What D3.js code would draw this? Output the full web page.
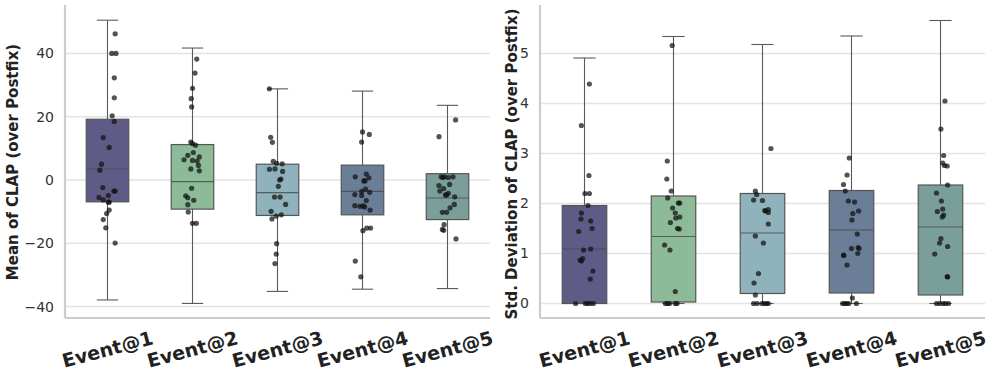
<!DOCTYPE html>
<html>
<head>
<meta charset="utf-8">
<script src="https://cdn.jsdelivr.net/npm/d3@7"></script>
<style>
body{margin:0;background:#fff;}
text{font-family:"DejaVu Sans",sans-serif;}
</style>
</head>
<body>
<svg id="chart" width="996" height="376"></svg>
<script>
// categories and box colours
let categories=["Event@1","Event@2","Event@3","Event@4","Event@5"];
let boxColors=["#5f5b87","#8dbb98","#8fb2bd","#6a7e97","#7a9e99"];

// box stats: [whisker low, q1, median, q3, whisker high]
let meanStats=[
    [-37.9,-6.9,3.5,19.2,50.5],
    [-39.0,-9.2,-0.5,11.2,41.7],
    [-35.2,-11.2,-4.0,5.0,28.8],
    [-34.5,-11.0,-3.6,4.7,28.1],
    [-34.3,-12.5,-5.7,2.0,23.6]
];
let stdStats=[
    [0,0,1.09,1.96,4.91],
    [0,0.03,1.34,2.15,5.34],
    [0,0.2,1.41,2.2,5.18],
    [0,0.21,1.47,2.26,5.35],
    [0,0.17,1.53,2.37,5.66]
];

// strip points: [value, jitter (in category widths)]
let meanPoints=[
    [[46.2,0.09],[40,0.05],[40,0.1],[32.3,0.08],[26,0.08],[20.3,0.055],[18.5,0.08],[13.4,-0.05],[10.3,0.02],[5.0,-0.07],[3.1,-0.09],[-2.4,-0.055],[-3.5,0.075],[-3.5,0.09],[-4.9,0.01],[-5.5,-0.1],[-6.3,-0.05],[-7.0,0.01],[-7.0,0.02],[-9.5,0.02],[-10.6,-0.01],[-12.5,-0.05],[-15.1,-0.02],[-19.9,0.09]],
    [[38.2,0.05],[33.8,0.03],[29.0,0],[25.7,-0.015],[23.1,-0.01],[12.0,-0.02],[11.5,0],[11.0,0.035],[7.8,-0.055],[8.7,0.01],[6.4,-0.1],[6.2,0],[6.0,0.055],[7.3,0.08],[4.6,0.07],[3.5,-0.02],[2.9,0.08],[-2.6,-0.01],[-5.0,-0.08],[-5.6,-0.055],[-6.4,0.015],[-7.8,-0.055],[-10.1,-0.05],[-13.7,0],[-13.7,0.045]],
    [[28.8,-0.095],[13.5,-0.08],[11.9,-0.06],[5.9,-0.05],[5.3,-0.01],[5.1,0.055],[3.4,-0.095],[3.5,-0.03],[2.7,0.06],[0,0.025],[0.3,0.04],[-2.0,0.01],[-5.4,-0.035],[-5.4,0.03],[-7.7,0.095],[-9.9,-0.075],[-11.4,-0.015],[-11.0,0.045],[-12.3,-0.065],[-20.1,-0.01],[-23.4,-0.015],[-26.4,-0.03]],
    [[15.2,0],[14.4,0.08],[12.0,-0.01],[1.0,-0.085],[1.9,0.045],[0.7,0.075],[-0.3,0.015],[-0.3,0.03],[-3.9,0.085],[-3.6,-0.01],[-2.9,0.035],[-4.6,-0.09],[-4.9,-0.01],[-6.5,0.045],[-8.1,-0.09],[-8.3,-0.03],[-8.2,0.005],[-8.5,0.025],[-9.5,0.09],[-16.0,0.005],[-15.2,0.05],[-15.2,0.095],[-25.6,-0.085],[-30.6,-0.02]],
    [[19.0,0.095],[13.7,-0.1],[1.0,-0.075],[1.0,-0.035],[1.0,0.065],[0.8,0.01],[0.8,-0.055],[-1.8,-0.1],[-2.7,-0.045],[-1.4,0.025],[-3.5,-0.09],[-4.7,-0.025],[-4.7,-0.01],[-4.2,0.01],[-5.3,0.085],[-10.2,-0.06],[-10.2,-0.01],[-8.8,0.03],[-7.7,0.08],[-14.1,-0.04],[-15.6,-0.06],[-15.9,-0.045],[-18.6,0.1]]
];
let stdPoints=[
    [[4.39,0.055],[3.56,-0.035],[2.56,0.05],[2.2,0.005],[2.2,0.055],[1.96,0.04],[1.81,-0.035],[1.69,-0.04],[1.65,0.07],[1.5,0.085],[1.44,-0.065],[1.07,-0.01],[1.09,0.07],[0.9,-0.02],[0.85,-0.035],[0.87,-0.05],[0.65,0.095],[0.49,0.065],[0,-0.1],[0,0.01],[0,0.035],[0,0.065],[0,0.1]],
    [[5.16,-0.015],[2.85,-0.07],[2.49,-0.075],[2.25,-0.025],[2.11,-0.065],[2.01,0.055],[2.01,0.07],[1.91,-0.01],[1.81,0.02],[1.73,0.07],[1.71,0.025],[1.62,-0.035],[1.5,0.045],[1.49,0.065],[1.17,-0.1],[1.07,-0.04],[0.24,0.02],[0,-0.09],[0,-0.065],[0,-0.045],[0,0.02],[0,0.04]],
    [[3.1,0.095],[2.25,-0.08],[2.18,-0.065],[2.07,-0.1],[2.06,0],[1.86,0.025],[1.88,0.065],[1.82,0.065],[1.85,0.035],[1.59,0.065],[1.35,-0.08],[1.21,0.01],[0.6,-0.045],[0.41,-0.095],[0.17,-0.08],[0,-0.1],[0,-0.06],[0,-0.005],[0,0.02],[0,0.045],[0,0.065]],
    [[2.91,-0.025],[2.57,-0.05],[2.38,-0.09],[2.25,-0.07],[2.05,-0.035],[2.03,0.035],[1.85,0.08],[1.80,0.015],[1.67,0.005],[1.39,0.065],[1.1,0],[1.12,0.075],[1.1,0.085],[0.97,-0.09],[0.96,-0.085],[1.0,0.07],[0.77,-0.05],[0.11,0.01],[0,-0.1],[0,-0.075],[0,-0.055],[0,-0.03],[0,0.055]],
    [[4.05,0.05],[3.49,0.005],[2.96,0.035],[2.81,0.025],[2.76,0.045],[2.75,0.075],[2.37,0.08],[2.21,-0.045],[2.05,0.01],[1.84,-0.035],[1.89,0.025],[1.77,0.035],[1.73,0.02],[1.3,0.005],[1.21,-0.01],[1.14,0.08],[0.99,-0.065],[0.54,0.075],[0.53,0.08],[0,-0.045],[0,-0.01],[0,0.03],[0,0.055],[0,0.09]]
];

let meanTicks=[-40,-20,0,20,40];
let stdTicks=[0,1,2,3,4,5];

const svg=d3.select("#chart");
const plotTop=5,plotBottom=318;

function drawPanel(opt){
    let x=d3.scaleBand().domain(categories).range([opt.left,opt.right]).padding(0);
    let y=d3.scaleLinear().domain(opt.domain).range([plotBottom,plotTop]);
    let g=svg.append("g");

    // grid
    g.append("g").selectAll("line").data(opt.ticks).enter().append("line")
        .attr("x1",opt.left).attr("x2",opt.right)
        .attr("y1",d=>y(d)).attr("y2",d=>y(d))
        .style("stroke","#e3e3e3").style("stroke-width",1.5);

    // y axis labels
    let ax=g.append("g").attr("transform","translate("+opt.left+",0)")
        .call(d3.axisLeft(y).tickValues(opt.ticks).tickFormat(d3.format("d")).tickSize(0).tickPadding(11));
    ax.select(".domain").remove();
    ax.selectAll("text").style("font-size","14px").style("fill","#333")
        .style("font-family","'DejaVu Sans',sans-serif");

    let bw=x.bandwidth(),boxW=bw*0.5;
    let cx=c=>x(c)+bw/2;

    opt.stats.forEach((s,i)=>{
        let c=cx(categories[i]);
        let bx=g.append("g");
        bx.append("line").attr("x1",c).attr("x2",c).attr("y1",y(s[0])).attr("y2",y(s[1]))
            .style("stroke","#5a5a5a").style("stroke-width",1.1);
        bx.append("line").attr("x1",c).attr("x2",c).attr("y1",y(s[3])).attr("y2",y(s[4]))
            .style("stroke","#5a5a5a").style("stroke-width",1.1);
        [s[0],s[4]].forEach(v=>{
            bx.append("line").attr("x1",c-boxW/4).attr("x2",c+boxW/4).attr("y1",y(v)).attr("y2",y(v))
                .style("stroke","#5a5a5a").style("stroke-width",1.1);
        });
        bx.append("rect").attr("x",c-boxW/2).attr("width",boxW)
            .attr("y",y(s[3])).attr("height",Math.max(0.5,y(s[1])-y(s[3])))
            .style("fill",boxColors[i]).style("stroke","#555").style("stroke-width",1.2);
        bx.append("line").attr("x1",c-boxW/2).attr("x2",c+boxW/2).attr("y1",y(s[2])).attr("y2",y(s[2]))
            .style("stroke","#4a4a4a").style("stroke-width",1.1).style("opacity",0.8);
    });

    opt.points.forEach((pts,i)=>{
        let c=cx(categories[i]);
        g.append("g").selectAll("circle").data(pts).enter().append("circle")
            .attr("cx",d=>c+d[1]*bw)
            .attr("cy",d=>y(d[0]))
            .attr("r",2.6)
            .style("fill","#111").style("opacity",0.72);
    });

    // spines
    g.append("line").attr("x1",opt.left).attr("x2",opt.left).attr("y1",plotTop).attr("y2",plotBottom)
        .style("stroke","#cccccc").style("stroke-width",2.2);
    g.append("line").attr("x1",opt.left).attr("x2",opt.right).attr("y1",plotBottom).attr("y2",plotBottom)
        .style("stroke","#cccccc").style("stroke-width",2.2);

    // x labels
    g.append("g").selectAll("text").data(categories).enter().append("text")
        .attr("transform",d=>"translate("+cx(d)+",349) rotate(-15)")
        .attr("text-anchor","middle").attr("dominant-baseline","central")
        .style("font-size","19px").style("font-weight","bold").style("fill","#222")
        .text(d=>d);

    // y title
    g.append("text")
        .attr("transform","translate("+opt.titleX+","+opt.titleY+") rotate(-90)")
        .attr("text-anchor","middle").attr("dominant-baseline","central")
        .style("font-size","15px").style("font-weight","bold").style("fill","#222")
        .text(opt.title);
}

drawPanel({left:65,right:490,domain:[-43.6,55.3],ticks:meanTicks,stats:meanStats,points:meanPoints,
    title:"Mean of CLAP (over Postfix)",titleX:13,titleY:162});
drawPanel({left:540,right:985,domain:[-0.29,5.97],ticks:stdTicks,stats:stdStats,points:stdPoints,
    title:"Std. Deviation of CLAP (over Postfix)",titleX:512,titleY:164});
</script>
</body>
</html>
